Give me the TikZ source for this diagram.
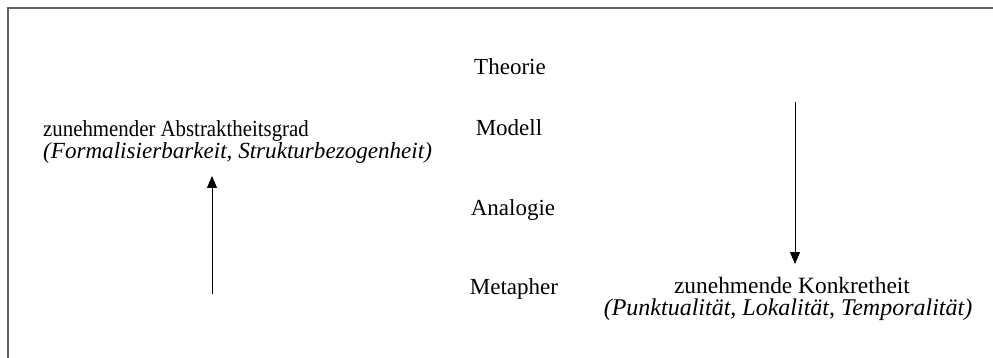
\documentclass[tikz,border=0pt]{standalone}
\usepackage{fontspec}
\usepackage{graphicx}
\setmainfont{Liberation Serif}
\usetikzlibrary{arrows.meta}
\begin{document}
\begin{tikzpicture}[x=1pt,y=-1pt,
  lbl/.style={anchor=base,inner sep=0pt,font=\fontsize{23}{27}\selectfont},
  side/.style={anchor=base west,inner sep=0pt},
  frame/.style={draw={rgb,255:red,100;green,100;blue,100},line width=2pt},
  arr/.style={draw=black,line width=1pt,-{Triangle[length=12pt,width=10pt]}}]
\useasboundingbox (0,0) rectangle (993,358);
\draw[frame] (8,358) -- (8,8) -- (993,8);
\node[lbl] (theorie) at (510,75) {Theorie};
\node[lbl] (modell) at (509,136) {Modell};
\node[lbl] (analogie) at (513,215) {Analogie};
\node[lbl] (metapher) at (514,294) {Metapher};
\node[side,font=\fontsize{23}{26}\selectfont] (abs1) at (43,137) {\scalebox{0.906}[1]{zunehmender Abstraktheitsgrad}};
\node[side,font=\fontsize{23.1}{26}\selectfont\itshape] (abs2) at (43,159) {(Formalisierbarkeit, Strukturbezogenheit)};
\node[lbl,font=\fontsize{23.4}{27}\selectfont] (kon1) at (792,293) {zunehmende Konkretheit};
\node[lbl,font=\fontsize{24}{27}\selectfont\itshape] (kon2) at (788,315) {(Punktualität, Lokalität, Temporalität)};
\coordinate (upstart) at (212,294);
\coordinate (upend) at (212,176);
\coordinate (downstart) at (795,102);
\coordinate (downend) at (795,264);
\draw[arr] (upstart) -- (upend);
\draw[arr] (downstart) -- (downend);
\end{tikzpicture}
\end{document}
